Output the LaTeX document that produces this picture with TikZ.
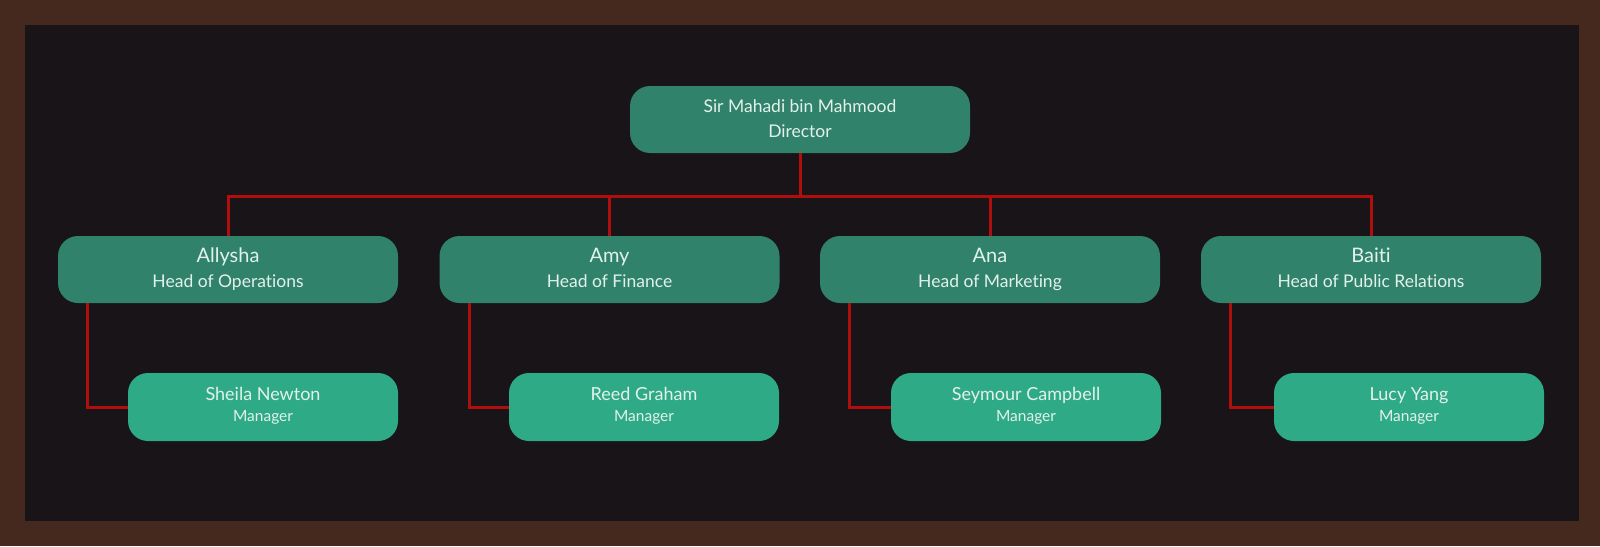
\documentclass[tikz,border=0pt]{standalone}
\usepackage{fontspec}
\setmainfont{Lato}[Ligatures={NoCommon}]
\definecolor{frame}{HTML}{45291F}
\definecolor{bgdark}{HTML}{181417}
\definecolor{headgreen}{HTML}{31826B}
\definecolor{mgrgreen}{HTML}{2FAA87}
\definecolor{linkred}{HTML}{B00D0D}
\definecolor{txt}{HTML}{E2F2EA}
\newcommand{\hname}[1]{{\fontsize{20}{25}\selectfont\strut #1}}
\newcommand{\mname}[1]{{\fontsize{18}{21}\selectfont\strut #1}}
\begin{document}
\begin{tikzpicture}[x=1pt,y=-1pt,
  headbox/.style={fill=headgreen, rounded corners=20pt, minimum width=340pt, minimum height=67pt, inner sep=0pt, text=txt, align=center, font=\fontsize{17.5}{25}\selectfont},
  mgrbox/.style={fill=mgrgreen, rounded corners=20pt, minimum width=270pt, minimum height=68pt, inner sep=0pt, text=txt, align=center, font=\fontsize{15.5}{21}\selectfont},
  link/.style={draw=linkred, line width=3pt}]
\fill[frame] (0,0) rectangle (1600,546);
\fill[bgdark] (25,25) rectangle (1579,521);
\useasboundingbox (0,0) rectangle (1600,546);

\node[headbox] (dir) at (800,119.5) {\strut Sir Mahadi bin Mahmood\\\strut Director};

\node[headbox] (h1) at (228,269.5) {\hname{Allysha}\\\strut Head of Operations};
\node[headbox] (h2) at (609.5,269.5) {\hname{Amy}\\\strut Head of Finance};
\node[headbox] (h3) at (990,269.5) {\hname{Ana}\\\strut Head of Marketing};
\node[headbox] (h4) at (1371,269.5) {\hname{Baiti}\\\strut Head of Public Relations};

\node[mgrbox] (m1) at (263,407) {\mname{Sheila Newton}\\\strut Manager};
\node[mgrbox] (m2) at (644,407) {\mname{Reed Graham}\\\strut Manager};
\node[mgrbox] (m3) at (1026,407) {\mname{Seymour Campbell}\\\strut Manager};
\node[mgrbox] (m4) at (1409,407) {\mname{Lucy Yang}\\\strut Manager};

\coordinate (bus) at (800,196);
\draw[link] (dir.south) -- (bus);
\draw[link] (h1.north) |- (bus) -| (h4.north);
\draw[link] (h2.north) -- (h2.north |- bus);
\draw[link] (h3.north) -- (h3.north |- bus);

\foreach \i in {1,2,3,4}{
  \draw[link] ([xshift=30pt]h\i.south west) |- (m\i.west);
}
\end{tikzpicture}
\end{document}
